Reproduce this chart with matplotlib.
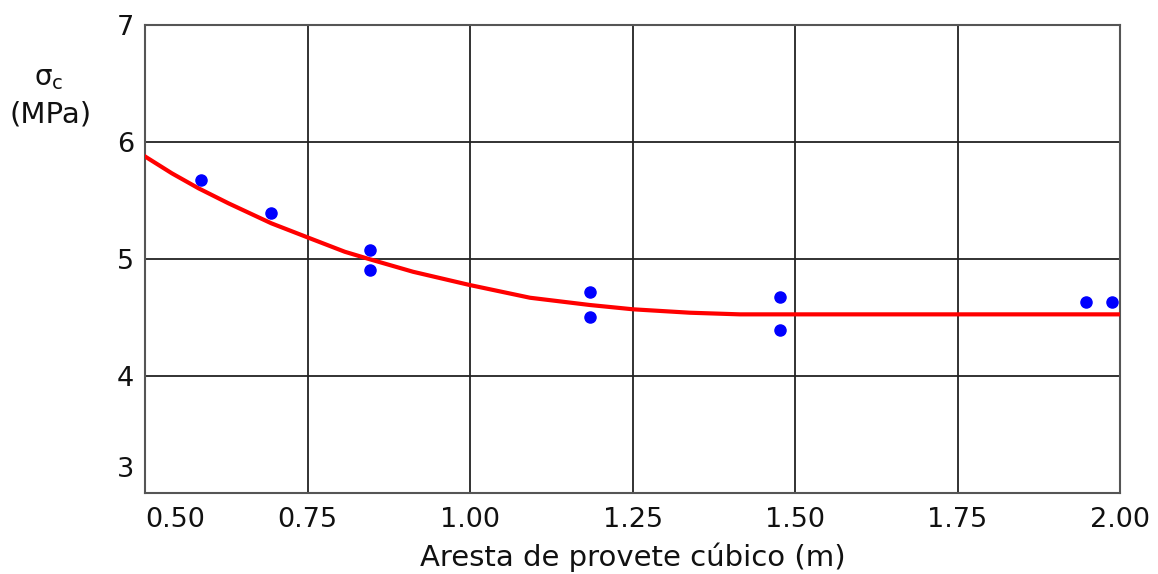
import matplotlib
matplotlib.use("Agg")
import matplotlib.pyplot as plt
import matplotlib.transforms as mtransforms

# measured points (aresta em m, tensão em MPa)
aresta = [0.586, 0.694, 0.845, 0.845, 1.185, 1.185, 1.477, 1.477, 1.948, 1.988]
sigma = [5.675, 5.393, 5.077, 4.906, 4.718, 4.504, 4.675, 4.393, 4.632, 4.632]

# fitted curve
curve_x = [0.50, 0.541, 0.582, 0.628, 0.694, 0.751, 0.807, 0.846, 0.912, 0.999,
           1.092, 1.184, 1.251, 1.338, 1.415, 1.60, 1.80, 2.00]
curve_y = [5.875, 5.732, 5.604, 5.476, 5.305, 5.182, 5.062, 4.997, 4.891, 4.778,
           4.669, 4.607, 4.570, 4.541, 4.527, 4.527, 4.527, 4.527]

xticks = [0.50, 0.75, 1.00, 1.25, 1.50, 1.75, 2.00]
xtick_labels = ["0.50", "0.75", "1.00", "1.25", "1.50", "1.75", "2.00"]
yticks = [3, 4, 5, 6, 7]

fig = plt.figure(figsize=(11.58, 5.74), dpi=100)
ax = fig.add_axes([0.1255, 0.1411, 0.9672 - 0.1255, 0.9564 - 0.1411])

ax.plot(curve_x, curve_y, color="#ff0000", linewidth=3, zorder=3)
ax.plot(aresta, sigma, "o", color="#0000ff", markersize=8, zorder=4)

ax.set_xlim(0.5, 2.0)
ax.set_ylim(3, 7)
ax.set_xticks(xticks)
ax.set_xticklabels(xtick_labels)
ax.set_yticks(yticks)
ax.grid(True, color="#222222", linewidth=1.3)
ax.set_axisbelow(True)
ax.tick_params(length=0, labelsize=19.5, colors="#111111")
ax.tick_params(axis="x", pad=10)
ax.tick_params(axis="y", pad=8)
for s in ax.spines.values():
    s.set_color("#555555")
    s.set_linewidth(1.5)

# first labels pushed inside like the original
ax.get_xticklabels()[0].set_ha("left")
lab3 = ax.get_yticklabels()[0]
lab3.set_va("bottom")
lab3.set_transform(lab3.get_transform() + mtransforms.ScaledTranslation(0, 10 / 100, fig.dpi_scale_trans))

ax.set_xlabel("Aresta de provete cúbico (m)", fontsize=21, color="#111111", labelpad=7)

fig.text(49 / 1158, 1 - 78 / 574, r"$\mathregular{\sigma_c}$", fontsize=20, ha="center", va="center", color="#111111")
fig.text(51 / 1158, 1 - 114 / 574, "(MPa)", fontsize=21, ha="center", va="center", color="#111111")

fig.savefig("out.png", dpi=100)
